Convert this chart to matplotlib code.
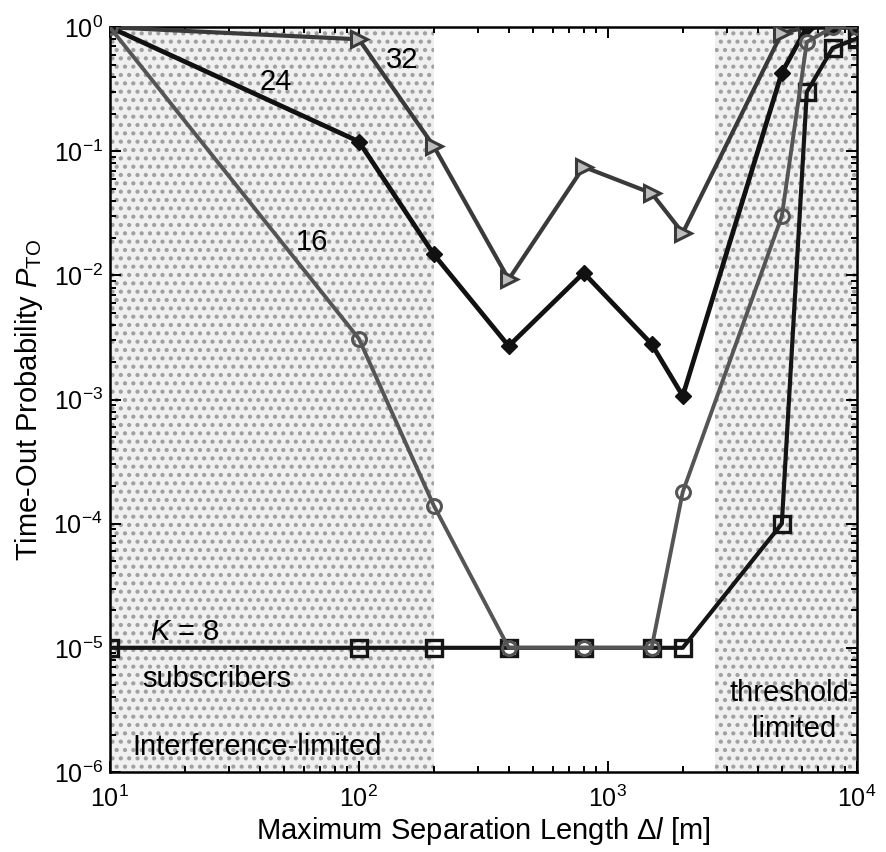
import numpy as np
import matplotlib
matplotlib.use("Agg")
import matplotlib.pyplot as plt
from matplotlib.ticker import NullFormatter

plt.rcParams['font.family'] = ['Liberation Sans', 'DejaVu Sans']
plt.rcParams['mathtext.fontset'] = 'custom'
plt.rcParams['mathtext.rm'] = 'Liberation Sans'
plt.rcParams['mathtext.it'] = 'Liberation Sans:italic'
plt.rcParams['hatch.linewidth'] = 1.8

# separation lengths [m]
dl = [10, 100, 200, 400, 800, 1500, 2000, 5000, 6300, 8000, 10000]

# time-out probability for each number of subscribers K
p_k8 = [1e-5, 1e-5, 1e-5, 1e-5, 1e-5, 1e-5, 1e-5, 1e-4, 0.30, 0.68, 0.81]
p_k16 = [1.0, 3.1e-3, 1.4e-4, 1e-5, 1e-5, 1e-5, 1.8e-4, 0.03, 0.76, 1.0, 1.0]
p_k24 = [1.0, 0.12, 0.0148, 2.7e-3, 0.0105, 2.8e-3, 1.07e-3, 0.43, 1.0, 1.0, 1.0]
p_k32 = [1.0, 0.80, 0.11, 9.3e-3, 0.075, 0.046, 0.022, 0.90, 1.0, 1.0, 1.0]

# operating regimes (shaded)
interf_span = (10, 200)
thresh_span = (2700, 10000)

fig = plt.figure(figsize=(8.86, 8.52), dpi=100)
ax = fig.add_axes([0.124, 0.094, 0.843, 0.874])

for lo, hi in (interf_span, thresh_span):
    ax.axvspan(lo, hi, facecolor='#f0f0f0', edgecolor='#a0a0a0',
               hatch='..', linewidth=0, zorder=0)

ax.plot(dl, p_k32, color='#3a3a3a', lw=3.0, marker='>', ms=11,
        mfc='#bdbdbd', mec='#3a3a3a', mew=2.2, zorder=3)
ax.plot(dl, p_k24, color='#111111', lw=3.4, marker='D', ms=8,
        mfc='#111111', mec='#111111', zorder=4)
ax.plot(dl, p_k8, color='#151515', lw=3.0, marker='s', ms=11,
        mfc='none', mec='#151515', mew=2.4, zorder=3)
ax.plot(dl, p_k16, color='#555555', lw=2.8, marker='o', ms=10,
        mfc='none', mec='#555555', mew=2.2, zorder=4)

ax.set_xscale('log')
ax.set_yscale('log')
ax.set_xlim(10, 1e4)
ax.set_ylim(1e-6, 1)
ax.xaxis.set_minor_formatter(NullFormatter())
ax.yaxis.set_minor_formatter(NullFormatter())

ax.tick_params(which='both', direction='in', top=True, right=True,
               labelsize=18, width=1.4)
ax.tick_params(which='major', length=8)
ax.tick_params(which='minor', length=4)
ax.tick_params(axis='x', which='major', pad=10)
ax.tick_params(axis='y', which='major', pad=5)
for s in ax.spines.values():
    s.set_linewidth(1.8)

ax.set_xlabel(r'Maximum Separation Length $\Delta l$ [m]', fontsize=21, labelpad=2)
ax.set_ylabel(r'Time-Out Probability $P_{\mathrm{TO}}$', fontsize=21, labelpad=6)

ax.text(128, 0.54, '32', fontsize=21, ha='left', va='center')
ax.text(40, 0.36, '24', fontsize=21, ha='left', va='center')
ax.text(56, 0.0185, '16', fontsize=21, ha='left', va='center')
ax.text(14.5, 1.35e-5, r'$K$ = 8', fontsize=21, ha='left', va='center')
ax.text(13.5, 5.6e-6, 'subscribers', fontsize=21, ha='left', va='center')
ax.text(12.3, 1.6e-6, 'Interference-limited', fontsize=21, ha='left', va='center')
ax.text(5600, 3.1e-6, 'threshold-\nlimited', fontsize=21, ha='center',
        va='center', linespacing=1.4)

fig.savefig('out.png', dpi=100)
